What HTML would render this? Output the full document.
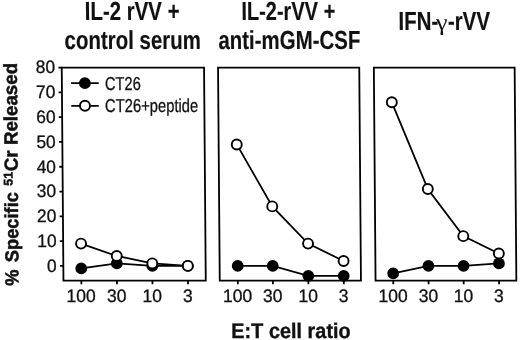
<!DOCTYPE html>
<html><head><meta charset="utf-8"><title>Figure</title>
<style>
html,body{margin:0;padding:0;background:#fff;}
svg{display:block;}
text{font-family:"Liberation Sans",sans-serif;fill:#111;text-rendering:geometricPrecision;}
</style></head>
<body>
<svg width="520" height="340" viewBox="0 0 520 340">
<rect width="520" height="340" fill="#fff"/>
<g transform="matrix(1,0,0.008,1,-1.392,0)">
<g transform="translate(133.40,20.30) scale(0.818,1.04)"><text font-weight="700" stroke="#111" stroke-width="0.15" font-size="25" text-anchor="middle" >IL-2 rVV +</text></g>
<g transform="translate(133.80,48.90) scale(0.818,1.04)"><text font-weight="700" stroke="#111" stroke-width="0.15" font-size="25" text-anchor="middle" >control serum</text></g>
<g transform="translate(289.60,20.30) scale(0.8,1.04)"><text font-weight="700" stroke="#111" stroke-width="0.15" font-size="25" text-anchor="middle" >IL-2-rVV +</text></g>
<g transform="translate(290.40,49.30) scale(0.818,1.04)"><text font-weight="700" stroke="#111" stroke-width="0.15" font-size="25" text-anchor="middle" >anti-mGM-CSF</text></g>
<g transform="translate(399.70,29.90) scale(0.818,1.04)"><text font-weight="700" stroke="#111" stroke-width="0.15" font-size="25" text-anchor="start" >IFN-</text></g>
<g transform="translate(442.9,29.9) scale(1.12,1.0)"><text font-size="23.5" text-anchor="middle" style="font-family:'Liberation Serif',serif">γ</text></g>
<g transform="translate(491.20,29.90) scale(0.818,1.04)"><text font-weight="700" stroke="#111" stroke-width="0.15" font-size="25" text-anchor="end" >-rVV</text></g>
<g transform="translate(289.70,338.10) scale(0.976,1.04)"><text font-weight="700" stroke="#111" stroke-width="0.35" font-size="20.4" text-anchor="middle" >E:T cell ratio</text></g>
<g transform="translate(17.7,285.8) rotate(-90) scale(0.962,1.0)"><text font-weight="700" stroke="#111" stroke-width="0.5" font-size="19" text-anchor="start" word-spacing="2.4">% Specific</text></g>
<g transform="translate(12.5,185.8) rotate(-90) scale(1.0,1.0)"><text font-weight="700" stroke="#111" stroke-width="0.5" font-size="12.5" text-anchor="start" word-spacing="0">51</text></g>
<g transform="translate(17.7,171.2) rotate(-90) scale(0.985,1.0)"><text font-weight="700" stroke="#111" stroke-width="0.5" font-size="19" text-anchor="start" word-spacing="0">Cr</text></g>
<g transform="translate(17.7,62.9) rotate(-90) scale(0.985,1.0)"><text font-weight="700" stroke="#111" stroke-width="0.5" font-size="19" text-anchor="end" word-spacing="0">Released</text></g>
<rect x="62.6" y="67.6" width="142.30" height="213.00" fill="none" stroke="#000" stroke-width="1.8"/>
<line x1="80.5" y1="280.6" x2="80.5" y2="284.20000000000005" stroke="#000" stroke-width="1.8"/>
<g transform="translate(80.20,301.90) scale(1.01,1.04)"><text font-size="17.4" text-anchor="middle" stroke="#111" stroke-width="0.3">100</text></g>
<line x1="116.1" y1="280.6" x2="116.1" y2="284.20000000000005" stroke="#000" stroke-width="1.8"/>
<g transform="translate(115.80,301.90) scale(1.01,1.04)"><text font-size="17.4" text-anchor="middle" stroke="#111" stroke-width="0.3">30</text></g>
<line x1="151.6" y1="280.6" x2="151.6" y2="284.20000000000005" stroke="#000" stroke-width="1.8"/>
<g transform="translate(151.30,301.90) scale(1.01,1.04)"><text font-size="17.4" text-anchor="middle" stroke="#111" stroke-width="0.3">10</text></g>
<line x1="187.1" y1="280.6" x2="187.1" y2="284.20000000000005" stroke="#000" stroke-width="1.8"/>
<g transform="translate(186.80,301.90) scale(1.01,1.04)"><text font-size="17.4" text-anchor="middle" stroke="#111" stroke-width="0.3">3</text></g>
<polyline points="80.50,243.59 116.10,255.98 151.60,263.42 187.10,265.90" fill="none" stroke="#000" stroke-width="1.8"/>
<polyline points="80.50,268.38 116.10,263.42 151.60,265.90 187.10,265.90" fill="none" stroke="#000" stroke-width="1.8"/>
<circle cx="80.5" cy="268.38" r="5.9" fill="#000"/>
<circle cx="116.1" cy="263.42" r="5.9" fill="#000"/>
<circle cx="151.6" cy="265.90" r="5.9" fill="#000"/>
<circle cx="187.1" cy="265.90" r="5.9" fill="#000"/>
<circle cx="80.5" cy="243.59" r="5.0" fill="#fff" stroke="#000" stroke-width="1.9"/>
<circle cx="116.1" cy="255.98" r="5.0" fill="#fff" stroke="#000" stroke-width="1.9"/>
<circle cx="151.6" cy="263.42" r="5.0" fill="#fff" stroke="#000" stroke-width="1.9"/>
<circle cx="187.1" cy="265.90" r="5.0" fill="#fff" stroke="#000" stroke-width="1.9"/>
<rect x="218.9" y="67.6" width="141.20" height="213.00" fill="none" stroke="#000" stroke-width="1.8"/>
<line x1="237.0" y1="280.6" x2="237.0" y2="284.20000000000005" stroke="#000" stroke-width="1.8"/>
<g transform="translate(236.70,301.90) scale(1.01,1.04)"><text font-size="17.4" text-anchor="middle" stroke="#111" stroke-width="0.3">100</text></g>
<line x1="272.0" y1="280.6" x2="272.0" y2="284.20000000000005" stroke="#000" stroke-width="1.8"/>
<g transform="translate(271.70,301.90) scale(1.01,1.04)"><text font-size="17.4" text-anchor="middle" stroke="#111" stroke-width="0.3">30</text></g>
<line x1="307.5" y1="280.6" x2="307.5" y2="284.20000000000005" stroke="#000" stroke-width="1.8"/>
<g transform="translate(307.20,301.90) scale(1.01,1.04)"><text font-size="17.4" text-anchor="middle" stroke="#111" stroke-width="0.3">10</text></g>
<line x1="342.9" y1="280.6" x2="342.9" y2="284.20000000000005" stroke="#000" stroke-width="1.8"/>
<g transform="translate(342.60,301.90) scale(1.01,1.04)"><text font-size="17.4" text-anchor="middle" stroke="#111" stroke-width="0.3">3</text></g>
<polyline points="237.00,144.43 272.00,206.40 307.50,243.59 342.90,260.94" fill="none" stroke="#000" stroke-width="1.8"/>
<polyline points="237.00,265.90 272.00,265.90 307.50,275.82 342.90,275.82" fill="none" stroke="#000" stroke-width="1.8"/>
<circle cx="237.0" cy="265.90" r="5.9" fill="#000"/>
<circle cx="272.0" cy="265.90" r="5.9" fill="#000"/>
<circle cx="307.5" cy="275.82" r="5.9" fill="#000"/>
<circle cx="342.9" cy="275.82" r="5.9" fill="#000"/>
<circle cx="237.0" cy="144.43" r="5.0" fill="#fff" stroke="#000" stroke-width="1.9"/>
<circle cx="272.0" cy="206.40" r="5.0" fill="#fff" stroke="#000" stroke-width="1.9"/>
<circle cx="307.5" cy="243.59" r="5.0" fill="#fff" stroke="#000" stroke-width="1.9"/>
<circle cx="342.9" cy="260.94" r="5.0" fill="#fff" stroke="#000" stroke-width="1.9"/>
<rect x="374.7" y="67.6" width="140.80" height="213.00" fill="none" stroke="#000" stroke-width="1.8"/>
<line x1="392.4" y1="280.6" x2="392.4" y2="284.20000000000005" stroke="#000" stroke-width="1.8"/>
<g transform="translate(392.10,301.90) scale(1.01,1.04)"><text font-size="17.4" text-anchor="middle" stroke="#111" stroke-width="0.3">100</text></g>
<line x1="427.7" y1="280.6" x2="427.7" y2="284.20000000000005" stroke="#000" stroke-width="1.8"/>
<g transform="translate(427.40,301.90) scale(1.01,1.04)"><text font-size="17.4" text-anchor="middle" stroke="#111" stroke-width="0.3">30</text></g>
<line x1="462.8" y1="280.6" x2="462.8" y2="284.20000000000005" stroke="#000" stroke-width="1.8"/>
<g transform="translate(462.50,301.90) scale(1.01,1.04)"><text font-size="17.4" text-anchor="middle" stroke="#111" stroke-width="0.3">10</text></g>
<line x1="498.2" y1="280.6" x2="498.2" y2="284.20000000000005" stroke="#000" stroke-width="1.8"/>
<g transform="translate(497.90,301.90) scale(1.01,1.04)"><text font-size="17.4" text-anchor="middle" stroke="#111" stroke-width="0.3">3</text></g>
<polyline points="392.40,102.29 427.70,189.05 462.80,236.15 498.20,253.50" fill="none" stroke="#000" stroke-width="1.8"/>
<polyline points="392.40,273.34 427.70,265.90 462.80,265.90 498.20,263.42" fill="none" stroke="#000" stroke-width="1.8"/>
<circle cx="392.4" cy="273.34" r="5.9" fill="#000"/>
<circle cx="427.7" cy="265.90" r="5.9" fill="#000"/>
<circle cx="462.8" cy="265.90" r="5.9" fill="#000"/>
<circle cx="498.2" cy="263.42" r="5.9" fill="#000"/>
<circle cx="392.4" cy="102.29" r="5.0" fill="#fff" stroke="#000" stroke-width="1.9"/>
<circle cx="427.7" cy="189.05" r="5.0" fill="#fff" stroke="#000" stroke-width="1.9"/>
<circle cx="462.8" cy="236.15" r="5.0" fill="#fff" stroke="#000" stroke-width="1.9"/>
<circle cx="498.2" cy="253.50" r="5.0" fill="#fff" stroke="#000" stroke-width="1.9"/>
<line x1="59.3" y1="265.90" x2="62.6" y2="265.90" stroke="#000" stroke-width="1.8"/>
<g transform="translate(56.00,271.80) scale(1.0,1.04)"><text font-size="17.4" text-anchor="end" stroke="#111" stroke-width="0.3">0</text></g>
<line x1="59.3" y1="241.11" x2="62.6" y2="241.11" stroke="#000" stroke-width="1.8"/>
<g transform="translate(56.00,247.01) scale(1.0,1.04)"><text font-size="17.4" text-anchor="end" stroke="#111" stroke-width="0.3">10</text></g>
<line x1="59.3" y1="216.32" x2="62.6" y2="216.32" stroke="#000" stroke-width="1.8"/>
<g transform="translate(56.00,222.22) scale(1.0,1.04)"><text font-size="17.4" text-anchor="end" stroke="#111" stroke-width="0.3">20</text></g>
<line x1="59.3" y1="191.53" x2="62.6" y2="191.53" stroke="#000" stroke-width="1.8"/>
<g transform="translate(56.00,197.43) scale(1.0,1.04)"><text font-size="17.4" text-anchor="end" stroke="#111" stroke-width="0.3">30</text></g>
<line x1="59.3" y1="166.74" x2="62.6" y2="166.74" stroke="#000" stroke-width="1.8"/>
<g transform="translate(56.00,172.64) scale(1.0,1.04)"><text font-size="17.4" text-anchor="end" stroke="#111" stroke-width="0.3">40</text></g>
<line x1="59.3" y1="141.95" x2="62.6" y2="141.95" stroke="#000" stroke-width="1.8"/>
<g transform="translate(56.00,147.85) scale(1.0,1.04)"><text font-size="17.4" text-anchor="end" stroke="#111" stroke-width="0.3">50</text></g>
<line x1="59.3" y1="117.16" x2="62.6" y2="117.16" stroke="#000" stroke-width="1.8"/>
<g transform="translate(56.00,123.06) scale(1.0,1.04)"><text font-size="17.4" text-anchor="end" stroke="#111" stroke-width="0.3">60</text></g>
<line x1="59.3" y1="92.37" x2="62.6" y2="92.37" stroke="#000" stroke-width="1.8"/>
<g transform="translate(56.00,98.27) scale(1.0,1.04)"><text font-size="17.4" text-anchor="end" stroke="#111" stroke-width="0.3">70</text></g>
<line x1="59.3" y1="67.58" x2="62.6" y2="67.58" stroke="#000" stroke-width="1.8"/>
<g transform="translate(56.00,73.48) scale(1.0,1.04)"><text font-size="17.4" text-anchor="end" stroke="#111" stroke-width="0.3">80</text></g>
<line x1="71.8" y1="83.1" x2="99.5" y2="83.1" stroke="#000" stroke-width="1.8"/>
<circle cx="85.6" cy="83.2" r="5.9" fill="#000"/>
<line x1="71.8" y1="105.8" x2="99.3" y2="105.8" stroke="#000" stroke-width="1.8"/>
<circle cx="85.5" cy="105.8" r="5.0" fill="#fff" stroke="#000" stroke-width="1.9"/>
<g transform="translate(105.70,89.60) scale(0.817,1.04)"><text font-size="17.9" text-anchor="start" stroke="#111" stroke-width="0.3">CT26</text></g>
<g transform="translate(105.50,112.10) scale(0.826,1.04)"><text font-size="17.9" text-anchor="start" stroke="#111" stroke-width="0.3">CT26+peptide</text></g>
</g>
</svg>
</body></html>
